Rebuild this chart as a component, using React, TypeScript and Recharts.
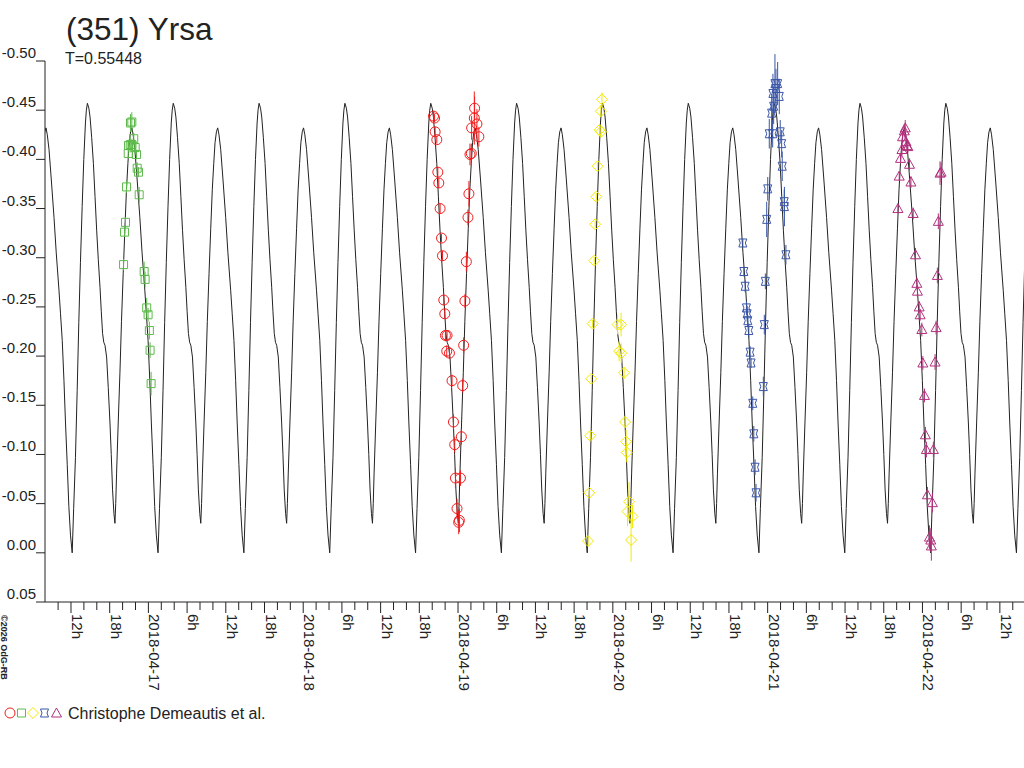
import { ComposedChart, Line, Scatter, ErrorBar, XAxis, YAxis } from 'recharts';

// time axis: hours since 2018-04-16 00:00
const T_START = 7.97;
const T_END = 159.74;
const PERIOD_H = 13.3075; // T = 0.55448 d
const EPOCH_H = 27.85; // a primary maximum of the model curve

// one period of the model curve (phase from primary max)
const PROFILE_PHASE = [
  0, 0.017, 0.031, 0.05, 0.07, 0.089, 0.108, 0.127, 0.147, 0.162, 0.177, 0.191, 0.205, 0.224,
  0.243, 0.263, 0.278, 0.293, 0.309, 0.321, 0.33, 0.34, 0.359, 0.379, 0.397, 0.417, 0.437,
  0.455, 0.472, 0.487, 0.503, 0.518, 0.533, 0.553, 0.579, 0.611, 0.637, 0.669, 0.687, 0.707,
  0.727, 0.745, 0.765, 0.784, 0.803, 0.823, 0.84, 0.861, 0.881, 0.9, 0.919, 0.939, 0.958,
  0.977, 0.988,
];
const PROFILE_MAG = [
  -0.457, -0.452, -0.443, -0.422, -0.396, -0.362, -0.328, -0.298, -0.27, -0.245, -0.223, -0.214,
  -0.211, -0.199, -0.168, -0.132, -0.1, -0.064, -0.04, -0.03, -0.05, -0.081, -0.132, -0.183,
  -0.235, -0.284, -0.33, -0.369, -0.396, -0.417, -0.428, -0.432, -0.425, -0.41, -0.38, -0.341,
  -0.305, -0.267, -0.243, -0.216, -0.175, -0.132, -0.09, -0.047, -0.018, 0.0, -0.045, -0.097,
  -0.165, -0.234, -0.295, -0.352, -0.4, -0.437, -0.45,
];

const GREEN_T = [20.15, 20.3, 20.45, 20.61, 20.87, 20.92, 21.18, 21.22, 21.43, 21.45, 21.73, 21.95, 22.15, 22.26, 22.46, 22.57, 23.34, 23.49, 23.74, 23.95, 24.15, 24.26, 24.42];
const GREEN_MAG = [-0.293, -0.326, -0.336, -0.372, -0.406, -0.414, -0.415, -0.437, -0.438, -0.415, -0.421, -0.412, -0.405, -0.391, -0.387, -0.364, -0.286, -0.278, -0.249, -0.242, -0.226, -0.206, -0.172];
const GREEN_ERR = [0.006, 0.005, 0.005, 0.006, 0.005, 0.006, 0.008, 0.009, 0.01, 0.006, 0.006, 0.007, 0.005, 0.006, 0.005, 0.008, 0.01, 0.008, 0.01, 0.007, 0.009, 0.008, 0.012];

const RED_T = [68.2, 68.36, 68.45, 68.71, 68.87, 69.02, 69.22, 69.44, 69.59, 69.79, 69.95, 70.05, 70.25, 70.3, 70.67, 71.07, 71.29, 71.49, 71.6, 71.84, 72.1, 72.21, 72.37, 72.52, 72.72, 72.87, 73.07, 73.29, 73.54, 73.69, 73.85, 74.06, 74.11, 74.52, 74.57, 74.93, 75.23];
const RED_MAG = [-0.444, -0.442, -0.428, -0.42, -0.387, -0.376, -0.35, -0.32, -0.302, -0.257, -0.243, -0.221, -0.205, -0.221, -0.203, -0.175, -0.133, -0.11, -0.076, -0.045, -0.031, -0.033, -0.076, -0.118, -0.17, -0.211, -0.256, -0.296, -0.341, -0.365, -0.405, -0.406, -0.432, -0.442, -0.452, -0.436, -0.423];
const RED_ERR = [0.005, 0.004, 0.005, 0.004, 0.005, 0.005, 0.005, 0.004, 0.005, 0.005, 0.005, 0.006, 0.006, 0.005, 0.006, 0.006, 0.008, 0.008, 0.01, 0.01, 0.012, 0.012, 0.008, 0.008, 0.007, 0.008, 0.007, 0.01, 0.008, 0.013, 0.011, 0.01, 0.012, 0.027, 0.012, 0.015, 0.01];

const YELLOW_T = [92.15, 92.35, 92.5, 92.66, 92.87, 93.12, 93.27, 93.43, 93.64, 93.95, 94.15, 94.17, 94.31, 96.73, 96.97, 97.28, 97.3, 97.74, 97.9, 98.05, 98.16, 98.27, 98.51, 98.83, 99.04];
const YELLOW_MAG = [-0.012, -0.061, -0.119, -0.177, -0.233, -0.297, -0.334, -0.362, -0.393, -0.43, -0.449, -0.428, -0.461, -0.232, -0.205, -0.232, -0.203, -0.183, -0.133, -0.113, -0.102, -0.042, -0.052, -0.013, -0.037];
const YELLOW_ERR = [0.005, 0.004, 0.004, 0.004, 0.004, 0.004, 0.004, 0.004, 0.004, 0.006, 0.006, 0.005, 0.007, 0.01, 0.01, 0.012, 0.01, 0.006, 0.006, 0.012, 0.01, 0.015, 0.02, 0.022, 0.012];

const BLUE_T = [116.15, 116.31, 116.51, 116.71, 116.82, 116.92, 117.08, 117.28, 117.43, 117.69, 117.85, 118.05, 118.2, 119.33, 119.48, 119.64, 119.85, 120.01, 120.25, 120.62, 120.78, 120.82, 120.93, 121.13, 121.29, 121.55, 121.8, 121.95, 122.17, 122.26, 122.57, 122.6, 122.83];
const BLUE_MAG = [-0.315, -0.286, -0.271, -0.249, -0.243, -0.236, -0.226, -0.204, -0.193, -0.152, -0.121, -0.087, -0.061, -0.169, -0.232, -0.276, -0.339, -0.37, -0.426, -0.447, -0.426, -0.467, -0.454, -0.477, -0.472, -0.477, -0.464, -0.428, -0.416, -0.393, -0.357, -0.352, -0.303];
const BLUE_ERR = [0.004, 0.005, 0.006, 0.007, 0.008, 0.006, 0.007, 0.006, 0.005, 0.007, 0.008, 0.008, 0.009, 0.01, 0.01, 0.008, 0.018, 0.012, 0.015, 0.02, 0.014, 0.02, 0.018, 0.03, 0.02, 0.022, 0.018, 0.012, 0.014, 0.015, 0.012, 0.02, 0.01];

const MAGENTA_T = [140.2, 140.4, 140.6, 140.82, 140.91, 141.18, 141.33, 141.44, 141.59, 141.74, 141.99, 142.21, 142.56, 142.92, 143.13, 143.22, 143.49, 143.64, 143.9, 144.06, 144.31, 144.46, 144.61, 144.77, 145.08, 145.29, 145.38, 145.54, 145.69, 145.95, 146.11, 146.31, 146.46, 146.72, 146.88];
const MAGENTA_MAG = [-0.35, -0.383, -0.401, -0.41, -0.423, -0.429, -0.432, -0.418, -0.414, -0.413, -0.395, -0.377, -0.345, -0.303, -0.274, -0.266, -0.25, -0.242, -0.227, -0.193, -0.16, -0.12, -0.105, -0.059, -0.016, -0.013, -0.007, -0.051, -0.105, -0.194, -0.229, -0.282, -0.337, -0.386, -0.387];
const MAGENTA_ERR = [0.005, 0.005, 0.005, 0.006, 0.006, 0.007, 0.008, 0.006, 0.006, 0.006, 0.006, 0.006, 0.006, 0.007, 0.006, 0.006, 0.006, 0.006, 0.007, 0.007, 0.007, 0.008, 0.008, 0.008, 0.012, 0.012, 0.015, 0.01, 0.008, 0.008, 0.007, 0.008, 0.008, 0.012, 0.01];

const Y_TICKS = [-0.5, -0.45, -0.4, -0.35, -0.3, -0.25, -0.2, -0.15, -0.1, -0.05, 0, 0.05];
const X_TICKS = Array.from({ length: 75 }, (_, i) => 10 + i * 2);

const GREEN = '#5cba4a';
const RED = '#f21c1c';
const YELLOW = '#f2ea00';
const BLUE = '#3a56a8';
const MAGENTA = '#b3307d';
const INK = '#222';
const FONT = '"Liberation Sans", Arial, sans-serif';

const PLOT_LEFT = 45;
const PLOT_TOP = 61;
const PLOT_BOTTOM = 602;

const curve: { t: number; mag: number }[] = [];
for (let k = -2; k <= 11; k++) {
  PROFILE_PHASE.forEach((p, i) => {
    const t = EPOCH_H + (k + p) * PERIOD_H;
    if (t > T_START - 2 && t < T_END + 2) curve.push({ t, mag: PROFILE_MAG[i] });
  });
}

const toPoints = (ts: number[], mags: number[], errs: number[]) =>
  ts.map((t, i) => ({ t, mag: mags[i], err: errs[i] }));

const markerPath = (kind: string, cx: number, cy: number) => {
  switch (kind) {
    case 'square':
      return `M${cx - 4},${cy - 4}h8v8h-8z`;
    case 'diamond':
      return `M${cx},${cy - 5.5}L${cx + 5.5},${cy}L${cx},${cy + 5.5}L${cx - 5.5},${cy}z`;
    case 'bowtie':
      return `M${cx - 4},${cy - 4}L${cx + 4},${cy - 4}Q${cx + 1},${cy} ${cx + 4},${cy + 4}L${cx - 4},${cy + 4}Q${cx - 1},${cy} ${cx - 4},${cy - 4}z`;
    case 'triangle':
      return `M${cx},${cy - 5}L${cx + 5},${cy + 4}L${cx - 5},${cy + 4}z`;
    default:
      return '';
  }
};

const Marker = ({ kind, cx, cy, color }: { kind: string; cx: number; cy: number; color: string }) =>
  kind === 'circle' ? (
    <circle cx={cx} cy={cy} r={5} fill="none" stroke={color} strokeWidth={1} />
  ) : (
    <path d={markerPath(kind, cx, cy)} fill="none" stroke={color} strokeWidth={1} />
  );

const SERIES = [
  { name: 'green', kind: 'square', color: GREEN, data: toPoints(GREEN_T, GREEN_MAG, GREEN_ERR) },
  { name: 'red', kind: 'circle', color: RED, data: toPoints(RED_T, RED_MAG, RED_ERR) },
  { name: 'yellow', kind: 'diamond', color: YELLOW, data: toPoints(YELLOW_T, YELLOW_MAG, YELLOW_ERR) },
  { name: 'blue', kind: 'bowtie', color: BLUE, data: toPoints(BLUE_T, BLUE_MAG, BLUE_ERR) },
  { name: 'magenta', kind: 'triangle', color: MAGENTA, data: toPoints(MAGENTA_T, MAGENTA_MAG, MAGENTA_ERR) },
];

const xLabel = (h: number) => {
  const hod = h % 24;
  if (hod === 0) return `2018-04-${16 + h / 24}`;
  return `${hod}h`;
};

const XTick = ({ x, payload }: any) => {
  const h = payload.value;
  const major = h % 6 === 0;
  return (
    <g>
      <line x1={x} x2={x} y1={PLOT_BOTTOM} y2={major ? 613 : 610} stroke={INK} strokeWidth={1} />
      {major && (
        <text
          transform={`translate(${x + 1},${614}) rotate(90)`}
          fontSize={15}
          fontFamily={FONT}
          fill={INK}
          textAnchor="start"
        >
          {xLabel(h)}
        </text>
      )}
    </g>
  );
};

const YTick = ({ y, payload }: any) => (
  <g>
    <line x1={36} x2={PLOT_LEFT} y1={y} y2={y} stroke={INK} strokeWidth={1} />
    <text x={36} y={y - 3} fontSize={15} fontFamily={FONT} fill={INK} textAnchor="end">
      {payload.value.toFixed(2)}
    </text>
  </g>
);

export default function App() {
  return (
    <div style={{ position: 'absolute', left: 0, top: 0, width: 1024, height: 768, background: '#fff', overflow: 'hidden' }}>
      <div style={{ position: 'absolute', left: 0, top: 0 }}>
        <ComposedChart width={1024} height={768} margin={{ top: PLOT_TOP, right: 0, bottom: 0, left: 0 }}>
          <XAxis
            type="number"
            dataKey="t"
            domain={[T_START, T_END]}
            allowDataOverflow
            ticks={X_TICKS}
            interval={0}
            tick={<XTick />}
            tickLine={false}
            height={768 - PLOT_BOTTOM}
            axisLine={{ stroke: INK }}
          />
          <YAxis
            type="number"
            dataKey="mag"
            domain={[-0.5, 0.05]}
            reversed
            allowDataOverflow
            ticks={Y_TICKS}
            interval={0}
            tick={<YTick />}
            tickLine={false}
            width={PLOT_LEFT}
            axisLine={{ stroke: INK }}
          />
          <Line
            data={curve}
            dataKey="mag"
            type="linear"
            stroke={INK}
            strokeWidth={1}
            dot={false}
            activeDot={false}
            isAnimationActive={false}
          />
          {SERIES.map((s) => (
            <Scatter
              key={s.name}
              name={s.name}
              data={s.data}
              dataKey="mag"
              isAnimationActive={false}
              shape={(p: any) => <Marker kind={s.kind} cx={p.cx} cy={p.cy} color={s.color} />}
            >
              <ErrorBar dataKey="err" direction="y" width={0} stroke={s.color} strokeWidth={1} />
            </Scatter>
          ))}
        </ComposedChart>
      </div>
      <svg width={1024} height={768} style={{ position: 'absolute', left: 0, top: 0, pointerEvents: 'none' }}>
        <text x={66} y={40} fontSize={31.5} fontFamily={FONT} fill={INK}>
          (351) Yrsa
        </text>
        <text x={65} y={64} fontSize={16} fontFamily={FONT} fill={INK}>
          T=0.55448
        </text>
        <text transform="translate(1,615) rotate(90)" fontSize={9} fontWeight="bold" fontFamily={FONT} fill={INK}>
          ©2026 OdG-RB
        </text>
        <Marker kind="circle" cx={10} cy={713} color={RED} />
        <Marker kind="square" cx={21.5} cy={713} color={GREEN} />
        <Marker kind="diamond" cx={33} cy={713} color={YELLOW} />
        <Marker kind="bowtie" cx={44.5} cy={713} color={BLUE} />
        <Marker kind="triangle" cx={56.5} cy={713} color={MAGENTA} />
        <text x={68} y={719} fontSize={16} fontFamily={FONT} fill={INK}>
          Christophe Demeautis et al.
        </text>
      </svg>
    </div>
  );
}
